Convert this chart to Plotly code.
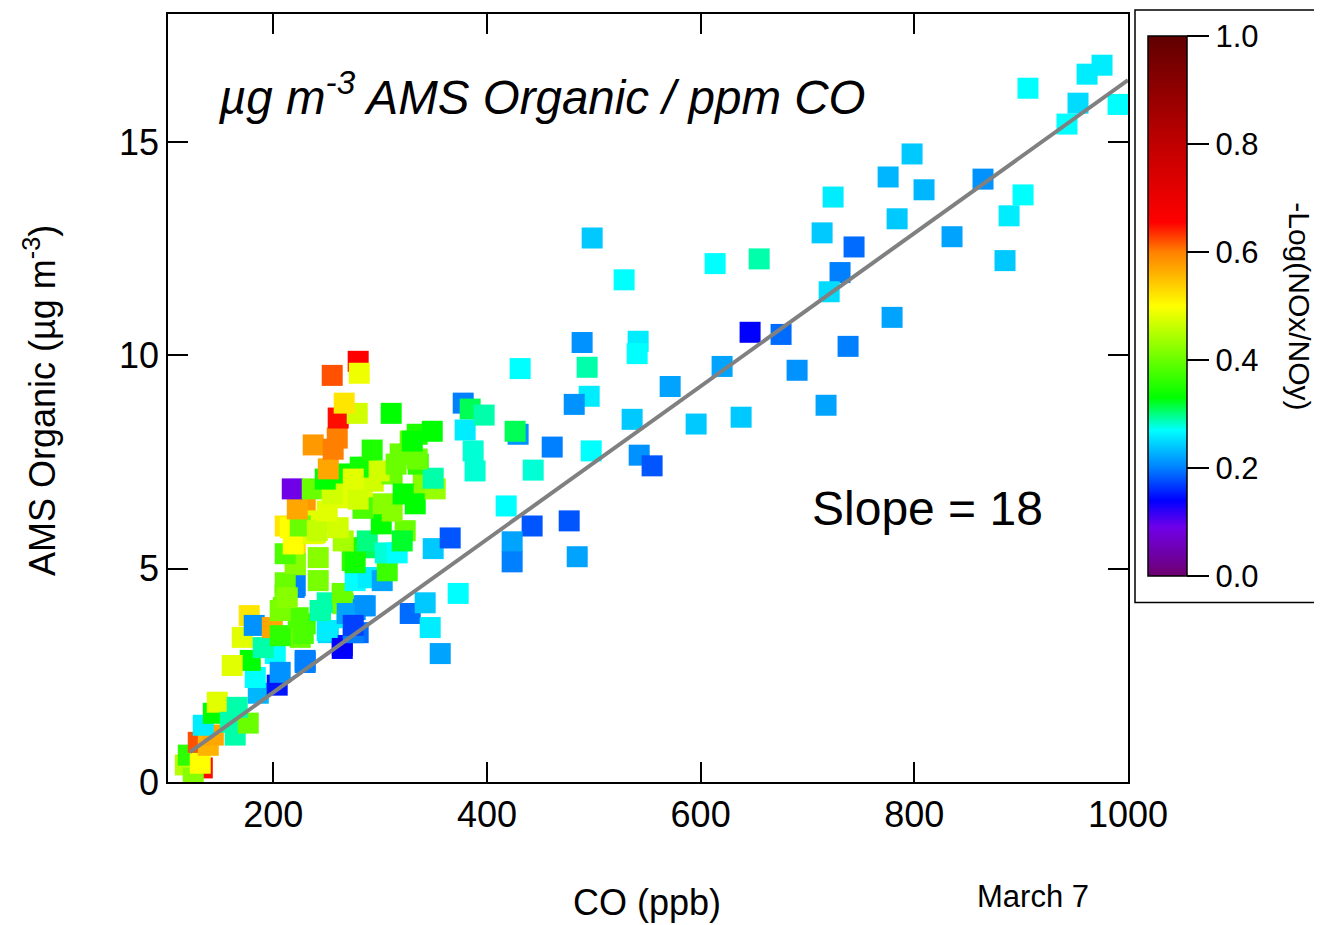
import plotly.graph_objects as go

# CO (ppb), AMS organic (ug m-3), -log(NOx/NOy)
co = [229.9, 269.2, 283.3, 284.2, 211.2, 239.3, 220.6, 273.9, 220.6, 286.1,
      220.6, 286.1, 211.2, 264.6, 209.4, 244.0, 269.2, 284.2, 229.9, 251.5,
      279.5, 225.3, 201.9, 264.6, 229.9, 288.0, 293.6, 272.0, 265.5, 340.4,
      311.3, 335.7, 328.2, 334.7, 323.5, 276.7, 241.2,
      133.6, 117.7, 125.1, 120.5, 131.7, 129.8, 139.2, 143.9, 134.5, 164.4,
      143.9, 147.6, 159.8, 176.6, 166.3, 186.0, 183.2, 203.7, 206.5, 178.5,
      161.6, 229.9, 171.0, 190.6, 177.5, 182.2, 199.1, 206.5, 228.1, 223.4,
      250.5, 264.6, 274.9, 269.2, 250.5, 265.5, 211.2, 206.5, 276.7,
      219.6, 211.2, 242.1, 213.1, 264.6, 276.7, 288.9, 302.0, 306.7, 244.0,
      269.2, 286.1, 274.9, 328.2, 342.2, 346.9, 356.3, 373.1, 220.6, 242.1,
      211.2, 276.7, 288.0, 265.5, 304.8, 316.0, 320.7, 349.7, 365.6, 218.7,
      237.4, 216.0, 225.3, 241.2, 260.8, 301.1, 284.2, 222.5, 250.5, 302.9,
      332.9, 311.3, 321.6, 279.5, 351.6, 349.7, 217.8, 236.5, 255.2, 248.7,
      251.5, 281.4, 299.1, 315.0, 274.9, 318.8, 334.7, 330.1, 348.8, 292.6,
      259.9, 237.4, 256.1, 260.8, 278.6, 266.4, 310.4, 255.2, 279.5, 280.5,
      377.8, 384.3, 379.6, 387.1, 388.9, 397.4, 429.2, 426.4,
      489.1, 541.5, 540.6, 431.1, 493.8, 495.7, 481.7, 571.5, 535.9, 595.8,
      620.1, 637.9, 646.3, 542.5, 554.6, 497.6, 461.1, 443.3, 418.0, 442.3,
      477.0, 423.6, 423.6, 484.5, 498.5, 528.4,
      906.4, 961.7, 975.7, 990.7, 953.2, 942.9, 797.9, 775.5, 809.1, 864.3,
      901.8, 888.7, 783.9, 724.0, 713.7, 835.3, 743.6, 884.9, 654.8, 613.6,
      730.5, 720.3, 779.2, 675.3, 738.0, 690.3, 717.4]
organic = [6.40, 6.66, 6.70, 6.42, 6.00, 5.84, 5.54, 5.19, 5.07, 5.49,
           4.60, 4.79, 4.37, 4.37, 4.09, 4.02, 3.97, 4.13, 3.71, 3.50,
           3.50, 3.39, 3.01, 3.20, 2.80, 7.36, 7.05, 6.98, 7.22, 6.98,
           7.22, 7.45, 7.99, 8.15, 5.89, 5.49, 6.12,
           0.33, 0.40, 0.09, 0.63, 0.44, 0.93, 0.86, 1.10, 1.33, 1.10,
           1.61, 1.87, 1.40, 1.38, 1.75, 2.08, 2.45, 2.27, 2.57, 2.85,
           2.73, 2.85, 3.39, 3.15, 3.90, 3.67, 3.62, 3.43, 3.48, 3.85,
           3.55, 3.13, 3.50, 3.85, 4.20, 4.18, 4.42, 4.02, 4.04,
           4.56, 4.67, 4.72, 4.32, 4.42, 4.72, 4.79, 4.72, 4.95, 4.02,
           3.95, 4.13, 3.67, 3.95, 4.20, 3.62, 3.01, 4.42, 5.12, 5.26,
           5.35, 5.14, 5.65, 5.65, 5.37, 5.37, 5.65, 5.47, 5.72, 5.58,
           5.82, 5.96, 6.00, 5.89, 5.96, 6.05, 6.42, 6.40, 6.35, 6.52,
           6.52, 6.35, 6.75, 6.63, 6.87, 7.12, 6.87, 6.87, 6.75, 7.10,
           7.34, 7.38, 7.29, 7.45, 7.10, 7.69, 7.57, 7.99, 8.22, 7.78,
           8.06, 7.90, 7.80, 8.53, 8.64, 8.88, 8.64, 9.53, 9.86, 9.58,
           8.88, 8.74, 8.25, 7.76, 7.29, 8.60, 8.15, 8.22,
           10.30, 10.33, 10.04, 9.69, 9.72, 9.04, 8.85, 9.27, 8.50, 8.39,
           9.74, 8.55, 10.54, 7.66, 7.41, 7.76, 7.85, 7.31, 6.47, 6.00,
           6.12, 5.63, 5.16, 5.28, 12.75, 11.77,
           16.26, 16.59, 16.80, 15.88, 15.91, 15.42, 14.72, 14.18, 13.88, 14.13,
           13.76, 13.27, 13.20, 13.71, 12.87, 12.78, 12.54, 12.22, 12.26, 12.15,
           11.94, 11.49, 10.89, 10.49, 10.21, 9.65, 8.83]
nox_noy = [0.58, 0.48, 0.48, 0.36, 0.52, 0.47, 0.53, 0.36, 0.43, 0.31,
           0.20, 0.27, 0.40, 0.40, 0.40, 0.32, 0.25, 0.22, 0.37, 0.25,
           0.19, 0.40, 0.27, 0.15, 0.20, 0.47, 0.47, 0.48, 0.33, 0.42,
           0.40, 0.36, 0.40, 0.35, 0.40, 0.35, 0.48,
           0.65, 0.45, 0.42, 0.36, 0.50, 0.62, 0.56, 0.57, 0.26, 0.29,
           0.33, 0.48, 0.29, 0.40, 0.29, 0.23, 0.27, 0.15, 0.21, 0.33,
           0.48, 0.20, 0.48, 0.29, 0.52, 0.21, 0.57, 0.36, 0.38, 0.38,
           0.26, 0.14, 0.20, 0.26, 0.29, 0.41, 0.41, 0.41, 0.21,
           0.20, 0.40, 0.41, 0.42, 0.40, 0.27, 0.26, 0.22, 0.37, 0.29,
           0.22, 0.21, 0.17, 0.19, 0.24, 0.26, 0.22, 0.27, 0.42, 0.42,
           0.38, 0.34, 0.30, 0.44, 0.28, 0.27, 0.32, 0.24, 0.18, 0.50,
           0.48, 0.50, 0.40, 0.46, 0.47, 0.33, 0.38, 0.57, 0.48, 0.42,
           0.33, 0.42, 0.33, 0.47, 0.43, 0.29, 0.09, 0.40, 0.47, 0.33,
           0.57, 0.34, 0.47, 0.40, 0.48, 0.40, 0.40, 0.33, 0.33, 0.35,
           0.60, 0.58, 0.60, 0.65, 0.47, 0.52, 0.33, 0.62, 0.66, 0.49,
           0.20, 0.31, 0.26, 0.28, 0.28, 0.29, 0.21, 0.31,
           0.21, 0.26, 0.27, 0.27, 0.29, 0.26, 0.21, 0.22, 0.24, 0.24,
           0.22, 0.24, 0.14, 0.21, 0.18, 0.27, 0.20, 0.28, 0.27, 0.18,
           0.18, 0.22, 0.20, 0.22, 0.24, 0.27,
           0.27, 0.26, 0.26, 0.27, 0.25, 0.27, 0.24, 0.23, 0.23, 0.21,
           0.27, 0.26, 0.24, 0.26, 0.24, 0.22, 0.19, 0.24, 0.29, 0.27,
           0.20, 0.25, 0.22, 0.19, 0.20, 0.21, 0.22]

fit_slope = 0.01794   # ug m-3 per ppb  (18 per ppm)
fit_intercept = -1.49
fit_x = [122, 1000]

x_ticks = [200, 400, 600, 800, 1000]
y_ticks = [0, 5, 10, 15]
cbar_ticks = [0.0, 0.2, 0.4, 0.6, 0.8, 1.0]

rainbow = [
    [0.00, "#6e0070"], [0.09, "#7000e8"], [0.14, "#0000ff"], [0.20, "#0080ff"],
    [0.27, "#00ffff"], [0.33, "#00ff00"], [0.50, "#ffff00"], [0.60, "#ff8000"],
    [0.655, "#ff0000"], [0.80, "#c00000"], [1.00, "#600000"],
]

FONT = "Liberation Sans, Arial, sans-serif"
# page body has an 8px margin, so the figure is shrunk by 8px and shifted
W, H = 1314, 917
L, T = 160, 4
pw, ph = 960, 770
R, B = W - L - pw, H - T - ph
OFF = 8


def px(xp):  # reference-window pixel -> paper x
    return (xp - OFF - L) / pw


def py(yp):  # reference-window pixel -> paper y
    return (T + ph - (yp - OFF)) / ph


fig = go.Figure()
fig.add_trace(go.Scatter(
    x=co, y=organic, mode="markers",
    marker=dict(
        symbol="square", size=21, color=nox_noy, cmin=0, cmax=1,
        colorscale=rainbow, line=dict(width=0),
        colorbar=dict(
            x=px(1148), xanchor="left", y=py(305), yanchor="middle",
            thickness=39, thicknessmode="pixels", len=540, lenmode="pixels",
            xpad=0, ypad=0, outlinewidth=1.5, outlinecolor="black",
            tickvals=cbar_ticks, tickformat=".1f", ticks="outside",
            ticklen=22, tickwidth=2, tickcolor="black",
            tickfont=dict(family=FONT, size=31, color="black"),
        ),
    ),
    showlegend=False,
))
fig.add_trace(go.Scatter(
    x=fit_x, y=[fit_slope * v + fit_intercept for v in fit_x],
    mode="lines", line=dict(color="#808080", width=4), showlegend=False,
))

axis_common = dict(
    showline=True, linecolor="black", linewidth=1.5, mirror="allticks",
    ticks="inside", ticklen=20, tickwidth=1.5, tickcolor="black",
    showgrid=False, zeroline=False,
    tickfont=dict(family=FONT, size=36, color="black"),
)
fig.update_xaxes(range=[101.5, 1000], tickvals=x_ticks, **axis_common)
fig.update_yaxes(range=[0, 18], tickvals=y_ticks, **axis_common)

ann = [
    dict(text="<i>µg m<sup>-3</sup> AMS Organic / ppm CO</i>", x=px(216), y=py(92),
         xanchor="left", yanchor="middle", font=dict(size=47.5)),
    dict(text="Slope = 18", x=px(810), y=py(508), xanchor="left", yanchor="middle",
         font=dict(size=48)),
    dict(text="CO (ppb)", x=px(647), y=py(903), xanchor="center", yanchor="middle",
         font=dict(size=36)),
    dict(text="AMS Organic (µg m<sup>-3</sup>)", x=px(40), y=py(400), xanchor="center",
         yanchor="middle", textangle=-90, font=dict(size=36)),
    dict(text="March 7", x=px(1033), y=py(897), xanchor="center", yanchor="middle",
         font=dict(size=31)),
    dict(text="-Log(NOx/NOy)", x=px(1300), y=py(305), xanchor="center",
         yanchor="middle", textangle=90, font=dict(size=30)),
]
for a in ann:
    a["font"].update(family=FONT, color="black")
    fig.add_annotation(xref="paper", yref="paper", showarrow=False, **a)

fig.add_shape(type="rect", xref="paper", yref="paper",
              x0=px(1135), x1=px(1340), y0=py(602), y1=py(8),
              line=dict(color="black", width=1.5))

fig.update_layout(
    width=W, height=H, margin=dict(l=L, r=R, t=T, b=B),
    paper_bgcolor="white", plot_bgcolor="white",
    font=dict(family=FONT, color="black"),
)
fig.write_html("out.html")
